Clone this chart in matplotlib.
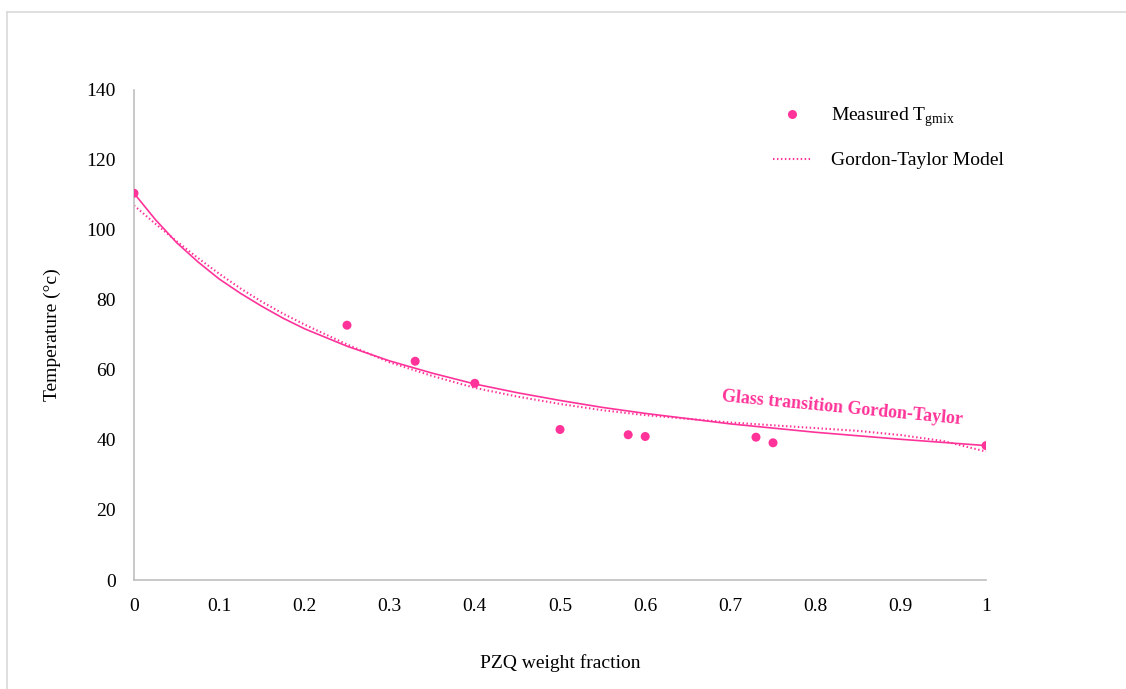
import matplotlib
matplotlib.use("Agg")
import matplotlib.pyplot as plt
from matplotlib.lines import Line2D

plt.rcParams["font.family"] = ["Liberation Serif", "DejaVu Serif"]
plt.rcParams["mathtext.fontset"] = "custom"
plt.rcParams["mathtext.rm"] = "Liberation Serif"

PINK = "#FF3399"
GRID = "#BFBFBF"

# measured glass transition points
pzq_frac = [0.0, 0.25, 0.33, 0.40, 0.50, 0.58, 0.60, 0.73, 0.75, 1.0]
tg_measured = [110.5, 72.8, 62.5, 56.2, 43.0, 41.5, 41.0, 40.8, 39.2, 38.4]

# Gordon-Taylor curve (solid)
gt_x = [0.0, 0.025, 0.05, 0.075, 0.1, 0.125, 0.15, 0.175, 0.2, 0.25, 0.3, 0.35,
        0.4, 0.45, 0.5, 0.55, 0.6, 0.7, 0.8, 0.9, 1.0]
gt_y = [110.5, 103.0, 96.4, 90.9, 86.0, 81.9, 78.2, 74.8, 71.8, 66.8, 62.6, 59.1,
        56.0, 53.5, 51.3, 49.3, 47.6, 44.6, 42.2, 40.2, 38.4]

# model trend (dotted)
model_x = [0.0, 0.025, 0.05, 0.075, 0.1, 0.125, 0.15, 0.175, 0.2, 0.25, 0.3, 0.35,
           0.4, 0.45, 0.5, 0.55, 0.6, 0.7, 0.8, 0.85, 0.9, 0.95, 1.0]
model_y = [107.0, 101.8, 96.8, 92.0, 87.5, 83.3, 79.5, 76.1, 73.0, 67.3, 62.2, 58.3,
           54.9, 52.4, 50.3, 48.5, 47.1, 45.0, 43.4, 42.6, 41.4, 39.7, 36.7]

x_ticks = [0, 0.1, 0.2, 0.3, 0.4, 0.5, 0.6, 0.7, 0.8, 0.9, 1]
x_tick_labels = ["0", "0.1", "0.2", "0.3", "0.4", "0.5", "0.6", "0.7", "0.8", "0.9", "1"]
y_ticks = [0, 20, 40, 60, 80, 100, 120, 140]

fig = plt.figure(figsize=(11.26, 6.89), dpi=100)
ax = fig.add_axes([0.119, 0.1582, 0.7567, 0.7112])

# frame around chart area (top and left edges visible)
fig.add_artist(Line2D([7 / 1126, 7 / 1126], [0, 1 - 12 / 689], transform=fig.transFigure,
                      color="#D9D9D9", lw=1.2))
fig.add_artist(Line2D([7 / 1126, 1], [1 - 12 / 689, 1 - 12 / 689], transform=fig.transFigure,
                      color="#D9D9D9", lw=1.2))

ax.plot(gt_x, gt_y, color=PINK, lw=1.2, zorder=2)
ax.plot(model_x, model_y, color=PINK, lw=1.5, linestyle=(0, (0.7, 1.2)), zorder=2)
ax.scatter(pzq_frac, tg_measured, s=42, color=PINK, edgecolors="none", zorder=3)

ax.text(0.831, 49.0, "Glass transition Gordon-Taylor", color=PINK, fontsize=13,
        fontweight="bold", rotation=-5.5, ha="center", va="center", rotation_mode="anchor")

ax.set_xlim(0, 1)
ax.set_ylim(0, 140)
ax.set_xticks(x_ticks)
ax.set_xticklabels(x_tick_labels)
ax.set_yticks(y_ticks)
ax.tick_params(axis="both", length=0, labelsize=14)
ax.tick_params(axis="y", pad=13)
ax.tick_params(axis="x", pad=13)

for side in ["top", "right"]:
    ax.spines[side].set_visible(False)
for side in ["left", "bottom"]:
    ax.spines[side].set_color(GRID)
    ax.spines[side].set_linewidth(1.2)

ax.set_xlabel("PZQ weight fraction", fontsize=14, labelpad=28)
ax.set_ylabel("Temperature (°c)", fontsize=14, labelpad=18)

handles = [
    Line2D([], [], marker="o", color=PINK, linestyle="none", markersize=6.5, markeredgewidth=0),
    Line2D([], [], color=PINK, lw=1.5, linestyle=(0, (0.7, 1.2))),
]
labels = [r"Measured T$_{\mathrm{gmix}}$", "Gordon-Taylor Model"]
ax.legend(handles, labels, loc="upper left", bbox_to_anchor=(773 / 1126, 1 - 106 / 689),
          bbox_transform=fig.transFigure, frameon=False, fontsize=14,
          handlelength=2.0, handletextpad=1.0, labelspacing=1.15, borderpad=0, borderaxespad=0)

fig.savefig("out.png", dpi=100)
